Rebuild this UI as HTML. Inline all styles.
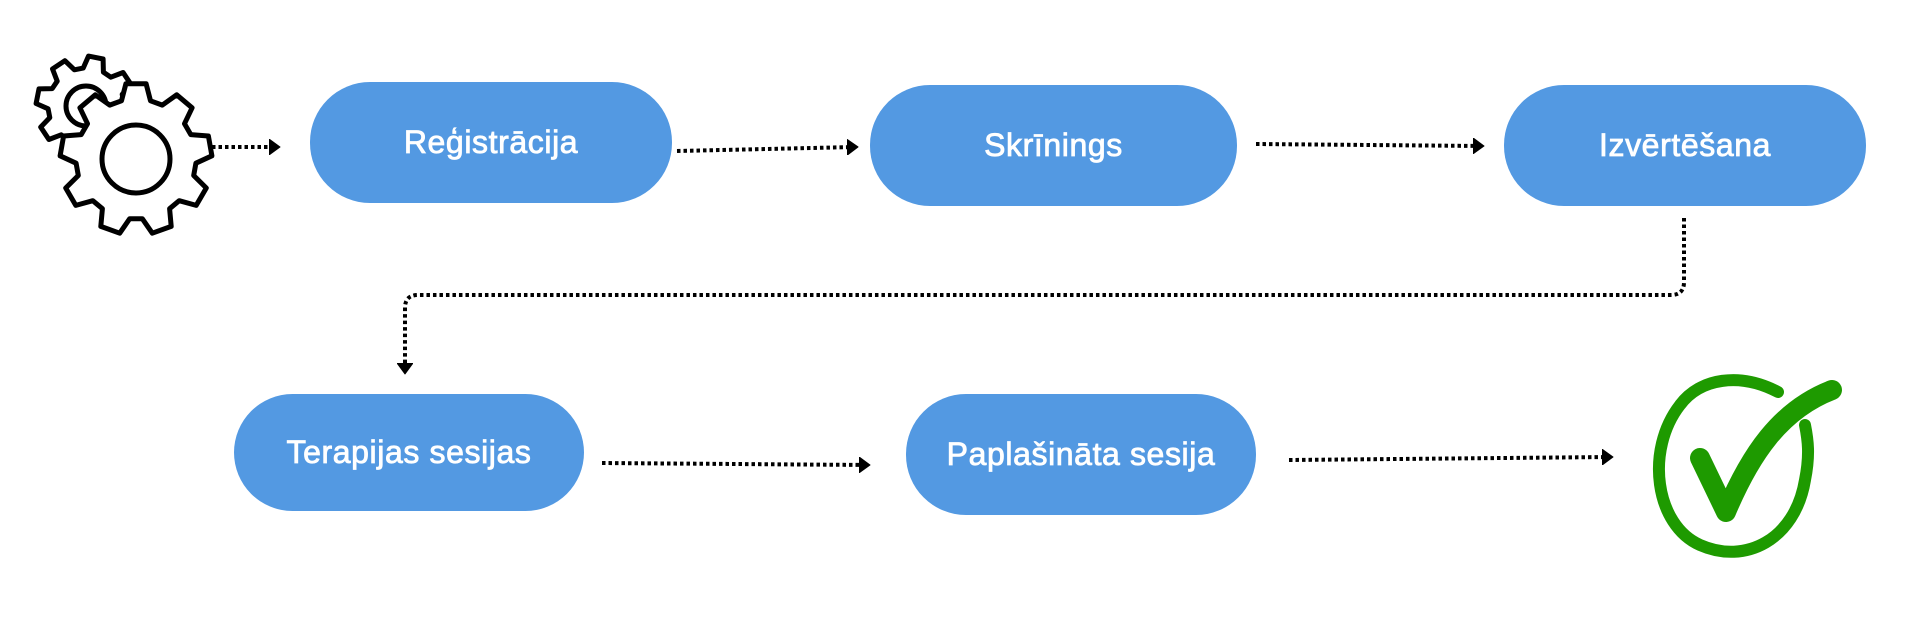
<!DOCTYPE html>
<html><head><meta charset="utf-8"><style>
html,body{margin:0;padding:0;background:#fff;width:1920px;height:640px;overflow:hidden}
.b{position:absolute;background:#5399E2;border-radius:60px/60px;color:#fff;font-family:"Liberation Sans",sans-serif;font-size:32px;display:flex;align-items:center;justify-content:center;letter-spacing:0.6px;-webkit-text-stroke:0.8px #fff}
</style></head><body>
<svg id="s" width="1920" height="640" style="position:absolute;left:0;top:0">
<defs><marker id="a" markerWidth="12" markerHeight="16" refX="9" refY="8" orient="auto" markerUnits="userSpaceOnUse"><path d="M0,0 L11,8 L0,16 Z" fill="#000" stroke="#000" stroke-width="1" stroke-linejoin="round"/></marker></defs>
<g stroke="#000" stroke-width="4" stroke-dasharray="3.5 3" fill="none" marker-end="url(#a)">
<path d="M212,147 L278,147"/>
<path d="M677,151 L856,147"/>
<path d="M1256,144 L1482,146"/>
<path d="M1684,218 L1684,282 Q1684,295 1671,295 L418,295 Q405,295 405,308 L405,372"/>
<path d="M602,463 L868,465"/>
<path d="M1289,460 L1611,457"/>
</g>
<g id="gears" fill="#fff" stroke="#000" stroke-width="5" stroke-linejoin="round"></g>
<g fill="none" stroke="#1E9A00">
<path d="M1778,392 C1740,372 1700,378 1680,405 C1645,450 1655,525 1700,545 C1745,565 1795,540 1805,480 C1810,455 1808,440 1805,425" stroke-width="12" stroke-linecap="round"/>
<path d="M1700,458 L1726,512 C1750,455 1780,410 1832,390" stroke-width="20" stroke-linecap="round" stroke-linejoin="round"/>
</g>
</svg>
<div class="b" style="left:310px;top:82px;width:362px;height:121px">Reģistrācija</div>
<div class="b" style="left:870px;top:85px;width:367px;height:121px">Skrīnings</div>
<div class="b" style="left:1504px;top:85px;width:362px;height:121px">Izvērtēšana</div>
<div class="b" style="left:234px;top:394px;width:350px;height:117px">Terapijas sesijas</div>
<div class="b" style="left:906px;top:394px;width:350px;height:121px">Paplašināta sesija</div>
<script>
function gear(cx,cy,ro,ri,n,off){let p=[];for(let i=0;i<n;i++){let a=i*2*Math.PI/n+(off||0),w=Math.PI/n;
let pts=[[ri,a-w*0.7],[ro,a-w*0.38],[ro,a+w*0.38],[ri,a+w*0.7]];
for(const [r,t] of pts)p.push((cx+r*Math.cos(t)).toFixed(1)+","+(cy+r*Math.sin(t)).toFixed(1));}
return "M"+p.join(" L")+" Z";}
const g=document.getElementById("gears");
g.innerHTML='<path d="'+gear(86,106,50,38,8,0.2)+'"/><circle cx="86" cy="106" r="20"/>'+
'<path d="'+gear(136,159,76,60,9,-Math.PI/2)+'"/><circle cx="136" cy="159" r="34"/>';
</script>
</body></html>
